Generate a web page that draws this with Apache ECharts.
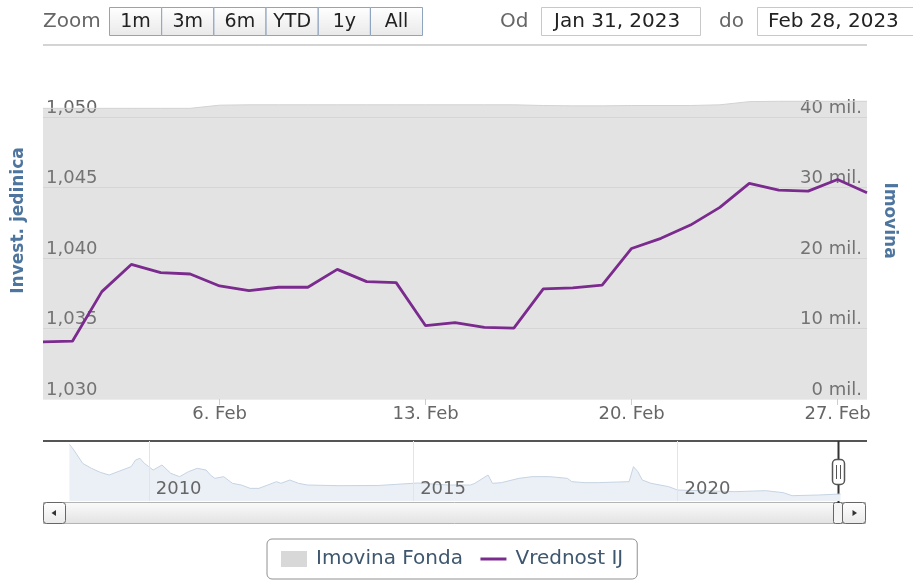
<!DOCTYPE html>
<html lang="hr">
<head>
  <meta charset="UTF-8">
  <title>Vrednost IJ</title>
  <script src="https://cdn.jsdelivr.net/npm/echarts@6/dist/echarts.min.js"></script>
  <style>
    html, body { margin: 0; padding: 0; background: #fff; }
    #c1 { width: 913px; height: 580px; }
  </style>
</head>
<body>
<div id="c1"></div>

<script>
  // dani u odabranom periodu (Jan 31 - Feb 28, 2023)
  var dates = ['2023-01-31', '2023-02-01', '2023-02-02', '2023-02-03', '2023-02-04', '2023-02-05',
    '2023-02-06', '2023-02-07', '2023-02-08', '2023-02-09', '2023-02-10', '2023-02-11', '2023-02-12',
    '2023-02-13', '2023-02-14', '2023-02-15', '2023-02-16', '2023-02-17', '2023-02-18', '2023-02-19',
    '2023-02-20', '2023-02-21', '2023-02-22', '2023-02-23', '2023-02-24', '2023-02-25', '2023-02-26',
    '2023-02-27', '2023-02-28'];

  // vrednost investicione jedinice
  var vrednostIJ = [1034.06, 1034.10, 1037.62, 1039.55, 1038.97, 1038.87,
    1038.02, 1037.69, 1037.93, 1037.93, 1039.20, 1038.33, 1038.26,
    1035.20, 1035.42, 1035.08, 1035.03, 1037.81, 1037.88, 1038.08,
    1040.68, 1041.40, 1042.34, 1043.60, 1045.30, 1044.82, 1044.75,
    1045.58, 1044.63];

  // imovina fonda, u mil.
  var imovina = [41.25, 41.25, 41.25, 41.25, 41.25, 41.25,
    41.70, 41.75, 41.75, 41.75, 41.75, 41.75, 41.75,
    41.75, 41.75, 41.75, 41.75, 41.65, 41.60, 41.60,
    41.65, 41.65, 41.65, 41.75, 42.20, 42.25, 42.25,
    42.25, 42.25];

  // navigator - istorija fonda (procena sa slike)
  var navPointMonths = ['2008-07', '2008-08', '2008-10', '2008-12', '2009-02', '2009-04', '2009-06',
    '2009-09', '2009-10', '2009-11', '2009-12', '2010-01', '2010-02', '2010-04', '2010-06',
    '2010-08', '2010-10', '2010-12', '2011-02', '2011-03', '2011-04', '2011-06', '2011-08',
    '2011-10', '2011-12', '2012-02', '2012-04', '2012-06', '2012-07', '2012-09', '2012-11',
    '2013-01', '2013-08', '2014-05', '2015-02', '2015-09', '2016-02', '2016-03', '2016-06',
    '2016-07', '2016-09', '2017-01', '2017-04', '2017-08', '2017-12', '2018-01', '2018-04',
    '2018-07', '2019-02', '2019-03', '2019-04', '2019-05', '2019-07', '2019-11', '2020-01',
    '2020-06', '2021-02', '2021-09', '2022-01', '2022-03', '2022-09', '2023-02'];
  var navPointValues = [340, 306, 226, 196, 172, 156, 176,
    206, 246, 256, 226, 206, 186, 216, 166,
    146, 176, 196, 186, 156, 136, 146, 106,
    96, 76, 76, 96, 116, 106, 126, 106,
    96, 92, 93, 108, 96, 96, 106, 156,
    106, 110, 136, 146, 146, 136, 116, 110,
    110, 116, 206, 176, 126, 106, 86, 66,
    62, 56, 62, 50, 32, 36, 42];

  var zoomButtons = ['1m', '3m', '6m', 'YTD', '1y', 'All'];
  var monthNames = ['Jan', 'Feb', 'Mar', 'Apr', 'May', 'Jun', 'Jul', 'Aug', 'Sep', 'Oct', 'Nov', 'Dec'];

  // mjeseci za os navigatora
  var navMonths = [];
  for (var y = 2008; y <= 2023; y++) {
    for (var m = 1; m <= 12; m++) {
      if (y === 2023 && m > 8) break;
      navMonths.push(y + '-' + (m < 10 ? '0' + m : m));
    }
  }

  function isMonday(value) {
    return new Date(value + 'T00:00:00Z').getUTCDay() === 1;
  }
  function isFifthYear(value) {
    return value.slice(5) === '01' && Number(value.slice(0, 4)) % 5 === 0;
  }
  function inputDate(value) {
    var d = new Date(value + 'T00:00:00Z');
    return monthNames[d.getUTCMonth()] + ' ' + d.getUTCDate() + ', ' + d.getUTCFullYear();
  }
  function thousands(v) {
    return String(v).replace(/\B(?=(\d{3})+(?!\d))/g, ',');
  }

  var font = 'DejaVu Sans';
  var btnFill = { type: 'linear', x: 0, y: 0, x2: 0, y2: 1, colorStops: [{ offset: 0, color: '#ffffff' }, { offset: 1, color: '#e9e9e9' }] };
  var barFill = { type: 'linear', x: 0, y: 0, x2: 0, y2: 1, colorStops: [{ offset: 0, color: '#fbfbfb' }, { offset: 1, color: '#e2e2e2' }] };

  // toolbar iznad grafika
  var graphics = [
    { type: 'text', left: 43, top: 12, style: { text: 'Zoom', font: '20px ' + font, fill: '#666' } },
    { type: 'line', shape: { x1: 43, y1: 45, x2: 867, y2: 45 }, style: { stroke: '#d4d4d4', lineWidth: 2 } },
    { type: 'text', left: 500, top: 12, style: { text: 'Od', font: '20px ' + font, fill: '#666' } },
    { type: 'rect', shape: { x: 541.5, y: 7.5, width: 159, height: 28 }, style: { fill: '#fff', stroke: '#c8c8c8' } },
    { type: 'text', left: 554, top: 12, style: { text: inputDate(dates[0]), font: '20px ' + font, fill: '#222' } },
    { type: 'text', left: 719, top: 12, style: { text: 'do', font: '20px ' + font, fill: '#666' } },
    { type: 'rect', shape: { x: 757.5, y: 7.5, width: 160, height: 28 }, style: { fill: '#fff', stroke: '#c8c8c8' } },
    { type: 'text', left: 768, top: 12, style: { text: inputDate(dates[dates.length - 1]), font: '20px ' + font, fill: '#222' } }
  ];
  zoomButtons.forEach(function (label, i) {
    var x = 109.5 + i * 52.2;
    graphics.push({ type: 'rect', shape: { x: x, y: 7.5, width: 52, height: 28 }, style: { fill: btnFill, stroke: '#8fa5bf' } });
    graphics.push({ type: 'text', x: x + 26, y: 22, style: { text: label, font: '19px ' + font, fill: '#222', align: 'center', verticalAlign: 'middle' } });
  });

  // navigator i scrollbar
  graphics.push(
    { type: 'line', shape: { x1: 43, y1: 441, x2: 867, y2: 441 }, style: { stroke: '#555', lineWidth: 2 } },
    { type: 'rect', shape: { x: 43.5, y: 502.5, width: 822, height: 21 }, style: { fill: barFill, stroke: '#b4b4b4' } },
    { type: 'rect', shape: { x: 43.5, y: 502.5, width: 22, height: 21, r: 3 }, style: { fill: btnFill, stroke: '#666' } },
    { type: 'polygon', shape: { points: [[51.5, 513], [56, 510], [56, 516]] }, style: { fill: '#333' } },
    { type: 'rect', shape: { x: 842.5, y: 502.5, width: 23, height: 21, r: 3 }, style: { fill: btnFill, stroke: '#666' } },
    { type: 'polygon', shape: { points: [[857, 513], [852.5, 510], [852.5, 516]] }, style: { fill: '#333' } },
    { type: 'rect', shape: { x: 833.5, y: 502.5, width: 9, height: 21, r: 2 }, style: { fill: '#f4f4f4', stroke: '#666' } },
    { type: 'line', shape: { x1: 838.5, y1: 441, x2: 838.5, y2: 503 }, style: { stroke: '#333', lineWidth: 2 } },
    { type: 'rect', shape: { x: 832.5, y: 459.5, width: 12, height: 25, r: 4 }, style: { fill: '#fff', stroke: '#555', lineWidth: 1.5 } },
    { type: 'line', shape: { x1: 836.5, y1: 465, x2: 836.5, y2: 479 }, style: { stroke: '#555' } },
    { type: 'line', shape: { x1: 840.5, y1: 465, x2: 840.5, y2: 479 }, style: { stroke: '#555' } }
  );

  var chartDom = document.getElementById('c1');
  var myChart = echarts.init(chartDom);
  var option;

  option = {
    animation: false,
    textStyle: { fontFamily: font },
    grid: [
      { left: 43, right: 46, top: 96, height: 303 },
      { left: 43, right: 46, top: 441, height: 60 }
    ],
    legend: {
      left: 267,
      top: 539,
      padding: [10, 14, 10, 14],
      itemGap: 16,
      itemWidth: 26,
      itemHeight: 16,
      borderColor: '#909090',
      borderWidth: 1,
      borderRadius: 5,
      textStyle: { fontSize: 20, color: '#3e576f', padding: [0, 0, 0, 4] },
      data: [
        { name: 'Imovina Fonda', icon: 'rect', itemStyle: { color: '#d8d8d8' } },
        { name: 'Vrednost IJ', itemStyle: { opacity: 0 }, lineStyle: { color: '#7b2a8e', width: 3 } }
      ]
    },
    xAxis: [
      {
        type: 'category',
        gridIndex: 0,
        data: dates,
        boundaryGap: false,
        axisLine: { show: false },
        axisTick: { show: true, length: 6, lineStyle: { color: '#c0d0e0' }, interval: function (i, v) { return isMonday(v); } },
        axisLabel: {
          fontSize: 18,
          color: '#666',
          margin: 6,
          interval: function (i, v) { return isMonday(v); },
          formatter: function (v) {
            var d = new Date(v + 'T00:00:00Z');
            return d.getUTCDate() + '. ' + monthNames[d.getUTCMonth()];
          }
        },
        splitLine: { show: false }
      },
      {
        type: 'category',
        gridIndex: 1,
        z: 10,
        data: navMonths,
        boundaryGap: false,
        axisLine: { show: false },
        axisTick: { show: false },
        axisLabel: {
          inside: true,
          fontSize: 18,
          color: '#666',
          margin: 3,
          align: 'left',
          padding: [0, 0, 0, 7],
          interval: function (i, v) { return isFifthYear(v); },
          formatter: function (v) { return v.slice(0, 4); }
        },
        splitLine: {
          show: true,
          lineStyle: { color: '#e4e4e4' },
          interval: function (i, v) { return isFifthYear(v); }
        }
      }
    ],
    yAxis: [
      {
        type: 'value',
        gridIndex: 0,
        min: 1030,
        max: 1051.5,
        interval: 5,
        name: 'Invest. jedinica',
        nameLocation: 'middle',
        nameRotate: 90,
        nameGap: 16,
        nameTextStyle: { fontSize: 17, fontWeight: 'bold', color: '#4d759e', padding: [0, 0, 0, 54] },
        axisLine: { show: false },
        axisTick: { show: false },
        axisLabel: {
          inside: true,
          fontSize: 18,
          color: '#666',
          margin: 3,
          verticalAlign: 'bottom',
          formatter: function (v) { return v % 5 === 0 ? thousands(v) : ''; }
        },
        splitLine: { show: true, showMaxLine: false, lineStyle: { color: '#ececec' } }
      },
      {
        type: 'value',
        gridIndex: 0,
        position: 'right',
        min: 0,
        max: 43,
        interval: 10,
        name: 'Imovina',
        nameLocation: 'middle',
        nameRotate: -90,
        nameGap: 14,
        nameTextStyle: { fontSize: 17, fontWeight: 'bold', color: '#4d759e', padding: [0, 54, 0, 0] },
        axisLine: { show: false },
        axisTick: { show: false },
        axisLabel: {
          inside: true,
          fontSize: 18,
          color: '#666',
          margin: 5,
          verticalAlign: 'bottom',
          formatter: function (v) { return v % 10 === 0 ? v + ' mil.' : ''; }
        },
        splitLine: { show: false }
      },
      {
        type: 'value',
        gridIndex: 1,
        min: 0,
        max: 360,
        show: false
      }
    ],
    series: [
      {
        name: 'Imovina Fonda',
        type: 'line',
        xAxisIndex: 0,
        yAxisIndex: 1,
        data: imovina,
        symbol: 'none',
        lineStyle: { color: '#d2d2d2', width: 1 },
        itemStyle: { color: '#d8d8d8' },
        areaStyle: { color: 'rgba(150, 150, 150, 0.27)', opacity: 1 }
      },
      {
        name: 'Vrednost IJ',
        type: 'line',
        xAxisIndex: 0,
        yAxisIndex: 0,
        data: vrednostIJ,
        symbol: 'none',
        lineStyle: { color: '#7b2a8e', width: 2.8 },
        itemStyle: { color: '#7b2a8e' }
      },
      {
        name: 'navigator',
        type: 'line',
        xAxisIndex: 1,
        yAxisIndex: 2,
        z: 1,
        data: navPointMonths.map(function (mo, i) { return [mo, navPointValues[i]]; }),
        symbol: 'none',
        lineStyle: { color: '#c6d3e3', width: 1 },
        areaStyle: { color: '#ebf0f6', opacity: 1 }
      }
    ],
    graphic: graphics
  };

  option && myChart.setOption(option);
</script>
</body>
</html>
